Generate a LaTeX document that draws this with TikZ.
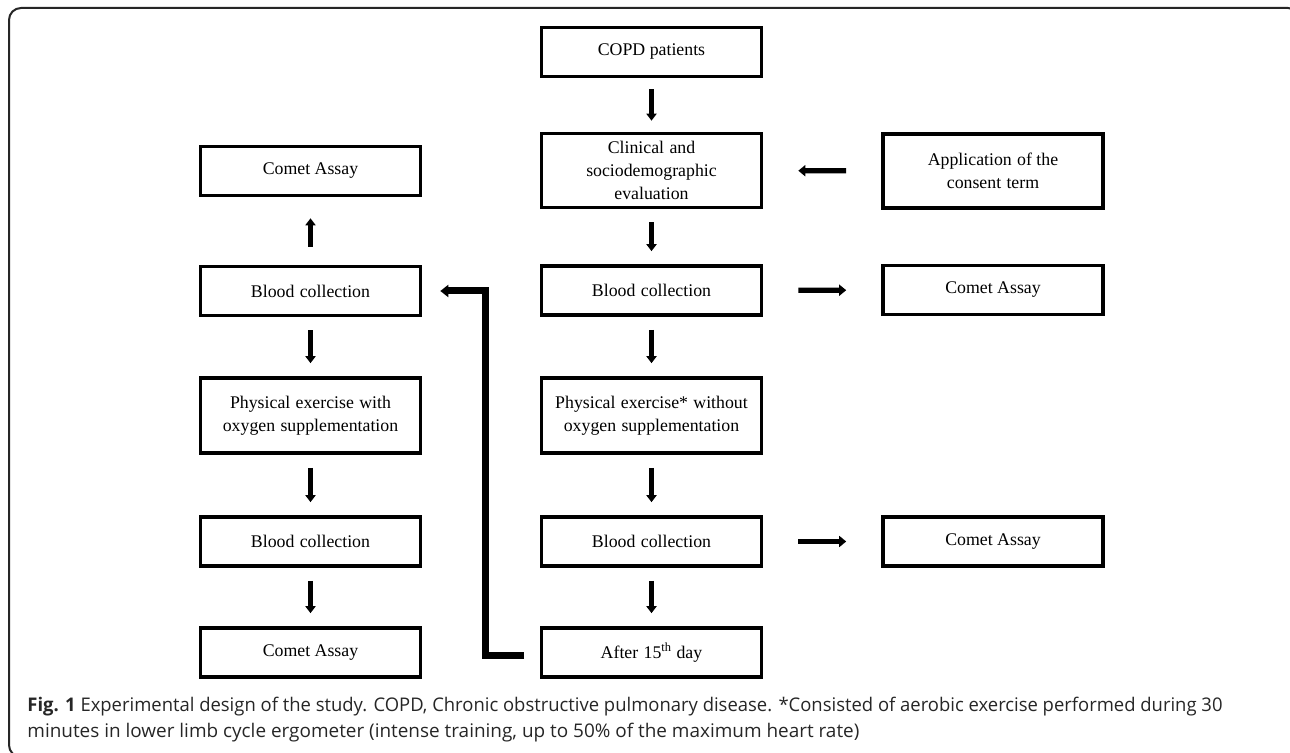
\documentclass[tikz,border=0pt]{standalone}
\usepackage{fontspec}
\setmainfont{Liberation Serif}
\newfontfamily\capfont{Open Sans}
\usetikzlibrary{arrows.meta}
\newcommand{\wg}{\hspace{0.3em}}
\begin{document}
\begin{tikzpicture}[x=0.5pt,y=-0.5pt,
  box/.style={draw, line width=1.8pt, minimum width=110pt, inner sep=0pt, align=center,
    font=\fontsize{8.9pt}{11.5pt}\selectfont},
  sbox/.style={box, minimum height=24.5pt},
  tbox/.style={box, minimum height=37pt},
  arr/.style={line width=2.2pt, -{Triangle[width=5pt,length=3.5pt]}, shorten <=6.5pt, shorten >=6.5pt},
  harr/.style={line width=2.6pt, -{Triangle[width=5.5pt,length=3.5pt]}, shorten <=17.5pt, shorten >=17.5pt},
  fb/.style={line width=3.5pt, -{Triangle[width=6pt,length=4pt]}},
  captext/.style={anchor=base west, inner sep=0pt, text=black!85,
    font=\capfont\fontsize{9.4pt}{10pt}\selectfont}]
\useasboundingbox (0,0) rectangle (1290,753);
\draw[line width=1pt, black!85, rounded corners=6pt] (9,8) rectangle (1300,757);

% middle column
\node[sbox] (copd) at (651.5,52) {COPD patients};
\node[tbox] (clin) at (651.5,170.5) {Clinical\wg and\\sociodemographic\\evaluation};
\node[sbox] (bm1) at (651.5,290.5) {Blood\wg collection};
\node[tbox, minimum height=37.5pt] (pm) at (651.5,415.5) {Physical\wg exercise*\wg without\\oxygen\wg supplementation};
\node[sbox] (bm2) at (651.5,541.5) {Blood\wg collection};
\node[sbox] (after) at (651.5,652.5) {After\wg 15\textsuperscript{th} day};

% right column
\node[tbox] (app) at (993,171) {Application\wg of the\\consent\wg term};
\node[sbox] (cr1) at (993,290) {Comet Assay};
\node[sbox] (cr2) at (993,541.5) {Comet Assay};

% left column
\node[sbox] (cl1) at (310.5,171) {Comet Assay};
\node[sbox] (bl1) at (310.5,291) {Blood\wg collection};
\node[tbox, minimum height=37.5pt] (pl) at (310.5,415.5) {Physical\wg exercise\wg with\\oxygen\wg supplementation};
\node[sbox] (bl2) at (310.5,541.5) {Blood\wg collection};
\node[sbox] (cl2) at (310.5,652.5) {Comet Assay};

% vertical arrows
\draw[arr, shorten <=5.5pt, shorten >=5.5pt] (copd) -- (clin);
\draw[arr] (clin) -- (bm1);
\draw[arr] (bm1) -- (pm);
\draw[arr] (pm) -- (bm2);
\draw[arr] (bm2) -- (after);
\draw[arr, shorten <=9pt, shorten >=10.5pt] (bl1) -- (cl1);
\draw[arr] (bl1) -- (pl);
\draw[arr] (pl) -- (bl2);
\draw[arr] (bl2) -- (cl2);

% horizontal arrows
\draw[harr] (app) -- (clin);
\draw[harr] (bm1) -- (cr1);
\draw[harr] (bm2) -- (cr2);

% feedback
\coordinate (fbs) at (524,655);
\coordinate (fbx) at (485,0);
\draw[fb, shorten >=9pt] (fbs) -| (fbx |- bl1.east) -- (bl1.east);

% caption
\node[captext] (cap1) at (27,711) {\resizebox{597.5pt}{\height}{\textbf{Fig. 1} Experimental design of the study. COPD, Chronic obstructive pulmonary disease. *Consisted of aerobic exercise performed during 30}};
\node[captext] (cap2) at (27,737) {\resizebox{416pt}{\height}{minutes in lower limb cycle ergometer (intense training, up to 50\% of the maximum heart rate)}};
\end{tikzpicture}
\end{document}
